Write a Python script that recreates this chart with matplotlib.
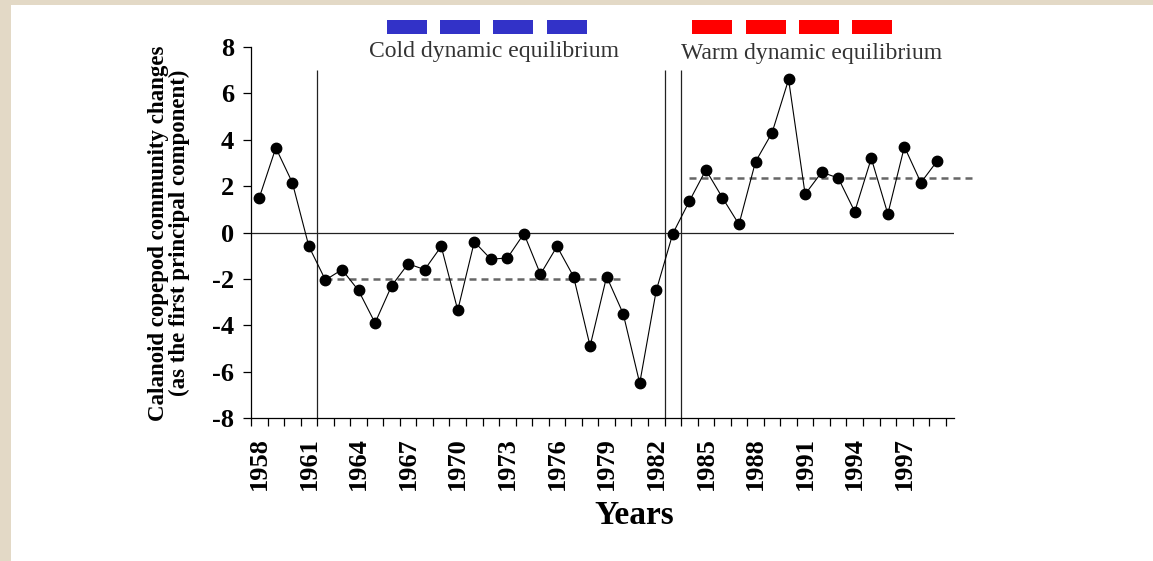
import numpy as np
import matplotlib
matplotlib.use("Agg")
import matplotlib.pyplot as plt
from matplotlib.patches import Rectangle

plt.rcParams['font.family'] = ['Liberation Serif', 'DejaVu Serif']
plt.rcParams['axes.unicode_minus'] = False

# first principal component of the calanoid copepod community, one value per year
years = np.arange(1958, 2000)
pc1 = [1.5, 3.65, 2.15, -0.6, -2.05, -1.6, -2.5, -3.9, -2.3, -1.35,
       -1.6, -0.6, -3.35, -0.4, -1.15, -1.1, -0.05, -1.8, -0.6, -1.9,
       -4.9, -1.9, -3.5, -6.5, -2.5, -0.05, 1.35, 2.7, 1.5, 0.35,
       3.05, 4.3, 6.6, 1.65, 2.6, 2.35, 0.9, 3.2, 0.8, 3.7,
       2.15, 3.1]

# mean level of each regime and the years it is drawn over
cold_mean = -2.0
cold_span = [1962, 1980]
warm_mean = 2.33
warm_span = [1984, 2001.4]

# regime shift boundaries
shifts = [1961.5, 1982.5, 1983.5]

label_years = np.arange(1958, 1998, 3)
y_ticks = np.arange(-8, 9, 2)

W, H = 1153, 561


def fx(px):
    return px / W


def fy(py):
    return 1 - py / H


fig = plt.figure(figsize=(W / 100, H / 100), dpi=100, facecolor='#e3d9c6')
# white page on top of the beige border
fig.patches.append(Rectangle((fx(11), 0), 1, fy(5), transform=fig.transFigure,
                             facecolor='white', edgecolor='none', zorder=-5))

ax = fig.add_axes([fx(251), fy(418), fx(954) - fx(251), fy(47) - fy(418)])
ax.set_zorder(2)
ax.set_facecolor('white')

ax.axhline(0, color='#222222', lw=0.9, zorder=2)
ax.vlines(shifts, -8, 7, colors='#222222', lw=0.9, zorder=2)

ax.plot(cold_span, [cold_mean, cold_mean], color='#666666', lw=1.8,
        ls=(0, (2.8, 2.0)), zorder=3, clip_on=False)
ax.plot(warm_span, [warm_mean, warm_mean], color='#666666', lw=1.8,
        ls=(0, (2.8, 2.0)), zorder=3, clip_on=False)

ax.plot(years, pc1, color='black', lw=0.8, marker='o', ms=7.5,
        mfc='black', mec='black', zorder=5, clip_on=False)

ax.set_xlim(1957.5, 2000.0)
ax.set_ylim(-8, 8)
ax.spines['top'].set_visible(False)
ax.spines['right'].set_visible(False)
ax.spines['left'].set_linewidth(0.9)
ax.spines['bottom'].set_linewidth(0.9)

ax.set_xticks(label_years)
ax.set_xticklabels([str(y) for y in label_years], rotation=90,
                   fontsize=19, fontweight='bold')
ax.set_xticks(np.arange(1957.5, 2000, 1), minor=True)
ax.tick_params(axis='x', which='major', length=0, pad=14)
ax.tick_params(axis='x', which='minor', length=6, width=0.9, direction='out')

ax.set_yticks(y_ticks)
ax.set_yticklabels([str(v) for v in y_ticks], fontsize=19, fontweight='bold')
ax.tick_params(axis='y', length=6, width=0.9, direction='out', pad=6)

# regime legend bars above the plot
for i in range(4):
    fig.patches.append(Rectangle((fx(386.7 + i * 53.3), fy(34)), fx(40), fy(20) - fy(34),
                                 transform=fig.transFigure, facecolor='#3232c8',
                                 edgecolor='none', zorder=3))
    fig.patches.append(Rectangle((fx(692.3 + i * 53.3), fy(34)), fx(40), fy(20) - fy(34),
                                 transform=fig.transFigure, facecolor='#ff0000',
                                 edgecolor='none', zorder=3))

fig.text(fx(494), fy(52), 'Cold dynamic equilibrium', ha='center', va='center',
         fontsize=17, color='#333333')
fig.text(fx(812), fy(53), 'Warm dynamic equilibrium', ha='center', va='center',
         fontsize=17, color='#333333')

fig.text(fx(169), fy(233),
         'Calanoid copepod community changes\n(as the first principal component)',
         rotation=90, ha='center', va='center', multialignment='center',
         fontsize=16.5, fontweight='bold', linespacing=0.95)

fig.text(fx(634), fy(516), 'Years', ha='center', va='center',
         fontsize=24, fontweight='bold')

fig.savefig('out.png', dpi=100, facecolor=fig.get_facecolor())
